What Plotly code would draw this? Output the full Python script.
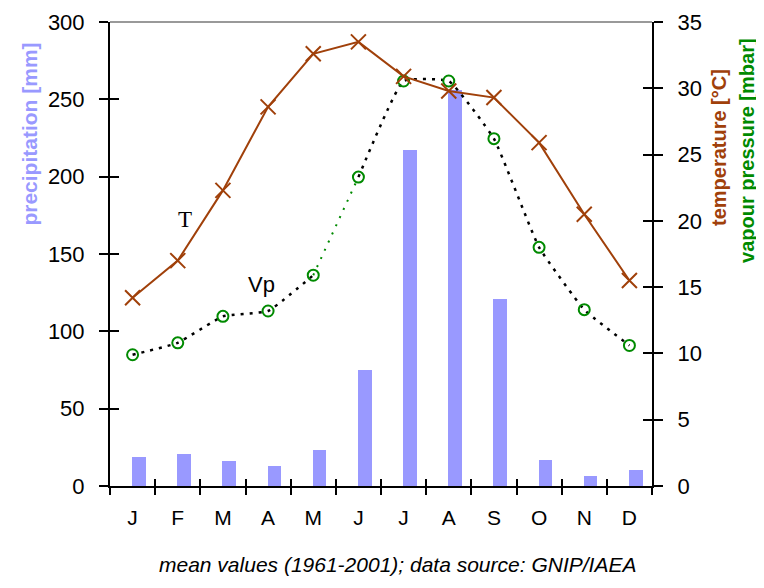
import plotly.graph_objects as go

months = ["J", "F", "M", "A", "M", "J", "J", "A", "S", "O", "N", "D"]
precip = [19, 21, 16, 13, 23, 75, 217, 256, 121, 17, 6.5, 10.5]
temp = [14.2, 17.0, 22.3, 28.6, 32.6, 33.5, 30.9, 29.8, 29.3, 25.9, 20.5, 15.5]
vapour = [9.9, 10.8, 12.8, 13.2, 15.9, 23.3, 30.55, 30.55, 26.2, 18.0, 13.3, 10.6]

xi = list(range(len(months)))
bounds = [i - 0.5 for i in range(len(months) + 1)]

BROWN = "#a0400a"
GREEN = "#008a00"
BLUE = "#9999ff"
FONT = "Liberation Sans, Arial, sans-serif"

fig = go.Figure()

fig.add_trace(go.Bar(x=xi, y=precip, marker=dict(color=BLUE, line=dict(width=0)),
                     width=0.3, offset=-0.01, yaxis="y", showlegend=False, hoverinfo="skip"))

# vapour pressure: black dotted parts and green dotted part
fig.add_trace(go.Scatter(x=xi[:5], y=vapour[:5], mode="lines", yaxis="y2",
                         line=dict(color="black", width=2.5, dash="3px,6px", shape="spline", smoothing=0.35),
                         showlegend=False, hoverinfo="skip"))
fig.add_trace(go.Scatter(x=xi[5:], y=vapour[5:], mode="lines", yaxis="y2",
                         line=dict(color="black", width=2.5, dash="3px,6px", shape="spline", smoothing=0.35),
                         showlegend=False, hoverinfo="skip"))
fig.add_trace(go.Scatter(x=xi[4:6], y=vapour[4:6], mode="lines", yaxis="y2",
                         line=dict(color=GREEN, width=2, dash="2px,7px"),
                         showlegend=False, hoverinfo="skip"))
fig.add_trace(go.Scatter(x=xi, y=vapour, mode="markers", yaxis="y2",
                         marker=dict(symbol="circle-open", size=11, color=GREEN, line=dict(width=2, color=GREEN)),
                         showlegend=False, hoverinfo="skip"))

# temperature
fig.add_trace(go.Scatter(x=xi, y=temp, mode="lines+markers", yaxis="y2",
                         line=dict(color=BROWN, width=2),
                         marker=dict(symbol="x-thin-open", size=15, color=BROWN, line=dict(width=2, color=BROWN)),
                         showlegend=False, hoverinfo="skip"))

# dummy traces for the tick-only overlay axes
fig.add_trace(go.Scatter(x=[None], y=[None], xaxis="x3", yaxis="y", showlegend=False, hoverinfo="skip"))
fig.add_trace(go.Scatter(x=[None], y=[None], yaxis="y3", showlegend=False, hoverinfo="skip"))
fig.add_trace(go.Scatter(x=[None], y=[None], yaxis="y4", showlegend=False, hoverinfo="skip"))

tickfont = dict(family=FONT, size=22, color="black")
ptick = [0, 50, 100, 150, 200, 250, 300]
ttick = [0, 5, 10, 15, 20, 25, 30, 35]

fig.update_layout(
    width=756, height=580,
    margin=dict(l=102, r=112, t=14, b=102, autoexpand=False),
    paper_bgcolor="white", plot_bgcolor="white",
    bargap=0,
    xaxis=dict(range=[-0.5, 11.5], tickmode="array", tickvals=xi, ticktext=months,
               ticks="", showgrid=False, zeroline=False, showline=True, linecolor="black",
               linewidth=2, tickfont=dict(family=FONT, size=21, color="black"),
               ticklabelstandoff=12, automargin=False,
               minor=dict(tickmode="array", tickvals=bounds, ticks="outside", ticklen=7,
                          tickcolor="black", tickwidth=1.5, showgrid=False)),
    xaxis3=dict(range=[-0.5, 11.5], overlaying="x", anchor="y", side="bottom",
                tickmode="array", tickvals=bounds, ticks="inside", ticklen=7,
                tickcolor="black", tickwidth=1.5, showticklabels=False, automargin=False,
                showgrid=False, zeroline=False, showline=False),
    yaxis=dict(range=[0, 300], tickmode="array", tickvals=ptick,
               ticks="outside", ticklen=9, tickwidth=1.5, tickcolor="black",
               showgrid=False, zeroline=False, showline=True, linecolor="black", linewidth=2,
               tickfont=tickfont, ticklabelstandoff=10, automargin=False),
    yaxis3=dict(range=[0, 300], overlaying="y", side="left", anchor="x",
                tickmode="array", tickvals=ptick,
                ticks="inside", ticklen=9, tickwidth=1.5, tickcolor="black", automargin=False,
                showticklabels=False, showgrid=False, zeroline=False, showline=False),
    yaxis2=dict(range=[0, 35], overlaying="y", side="right", anchor="x",
                tickmode="array", tickvals=ttick,
                ticks="outside", ticklen=9, tickwidth=1.5, tickcolor="black",
                showgrid=False, zeroline=False, showline=True, linecolor="black", linewidth=2,
                tickfont=tickfont, ticklabelstandoff=10, automargin=False),
    yaxis4=dict(range=[0, 35], overlaying="y", side="right", anchor="x",
                tickmode="array", tickvals=ttick,
                ticks="inside", ticklen=9, tickwidth=1.5, tickcolor="black", automargin=False,
                showticklabels=False, showgrid=False, zeroline=False, showline=False),
    shapes=[dict(type="line", xref="paper", yref="paper", x0=0, x1=1, y0=1, y1=1,
                 line=dict(color="#999999", width=2))],
    annotations=[
        dict(text="<b>precipitation [mm]</b>", xref="paper", yref="paper", x=-0.148, y=0.759,
             textangle=-90, showarrow=False, xanchor="center", yanchor="middle",
             font=dict(family=FONT, size=21, color=BLUE)),
        dict(text="<b>temperature [°C]</b>", xref="paper", yref="paper", x=1.125, y=0.73,
             textangle=-90, showarrow=False, xanchor="center", yanchor="middle",
             font=dict(family=FONT, size=20, color=BROWN)),
        dict(text="<b>vapour pressure [mbar]</b>", xref="paper", yref="paper", x=1.175, y=0.724,
             textangle=-90, showarrow=False, xanchor="center", yanchor="middle",
             font=dict(family=FONT, size=20, color=GREEN)),
        dict(text="T", xref="x", yref="y2", x=1.157, y=20.07, showarrow=False,
             xanchor="center", yanchor="middle",
             font=dict(family="Liberation Serif, Times New Roman, serif", size=23, color="black")),
        dict(text="Vp", xref="x", yref="y2", x=2.86, y=15.2, showarrow=False,
             xanchor="center", yanchor="middle",
             font=dict(family=FONT, size=22, color="black")),
        dict(text="<i>mean values (1961-2001); data source: GNIP/IAEA</i>", xref="paper", yref="paper",
             x=0.531, y=-0.17, showarrow=False, xanchor="center", yanchor="middle",
             font=dict(family=FONT, size=21, color="black")),
    ],
)

fig.write_html("out.html")
